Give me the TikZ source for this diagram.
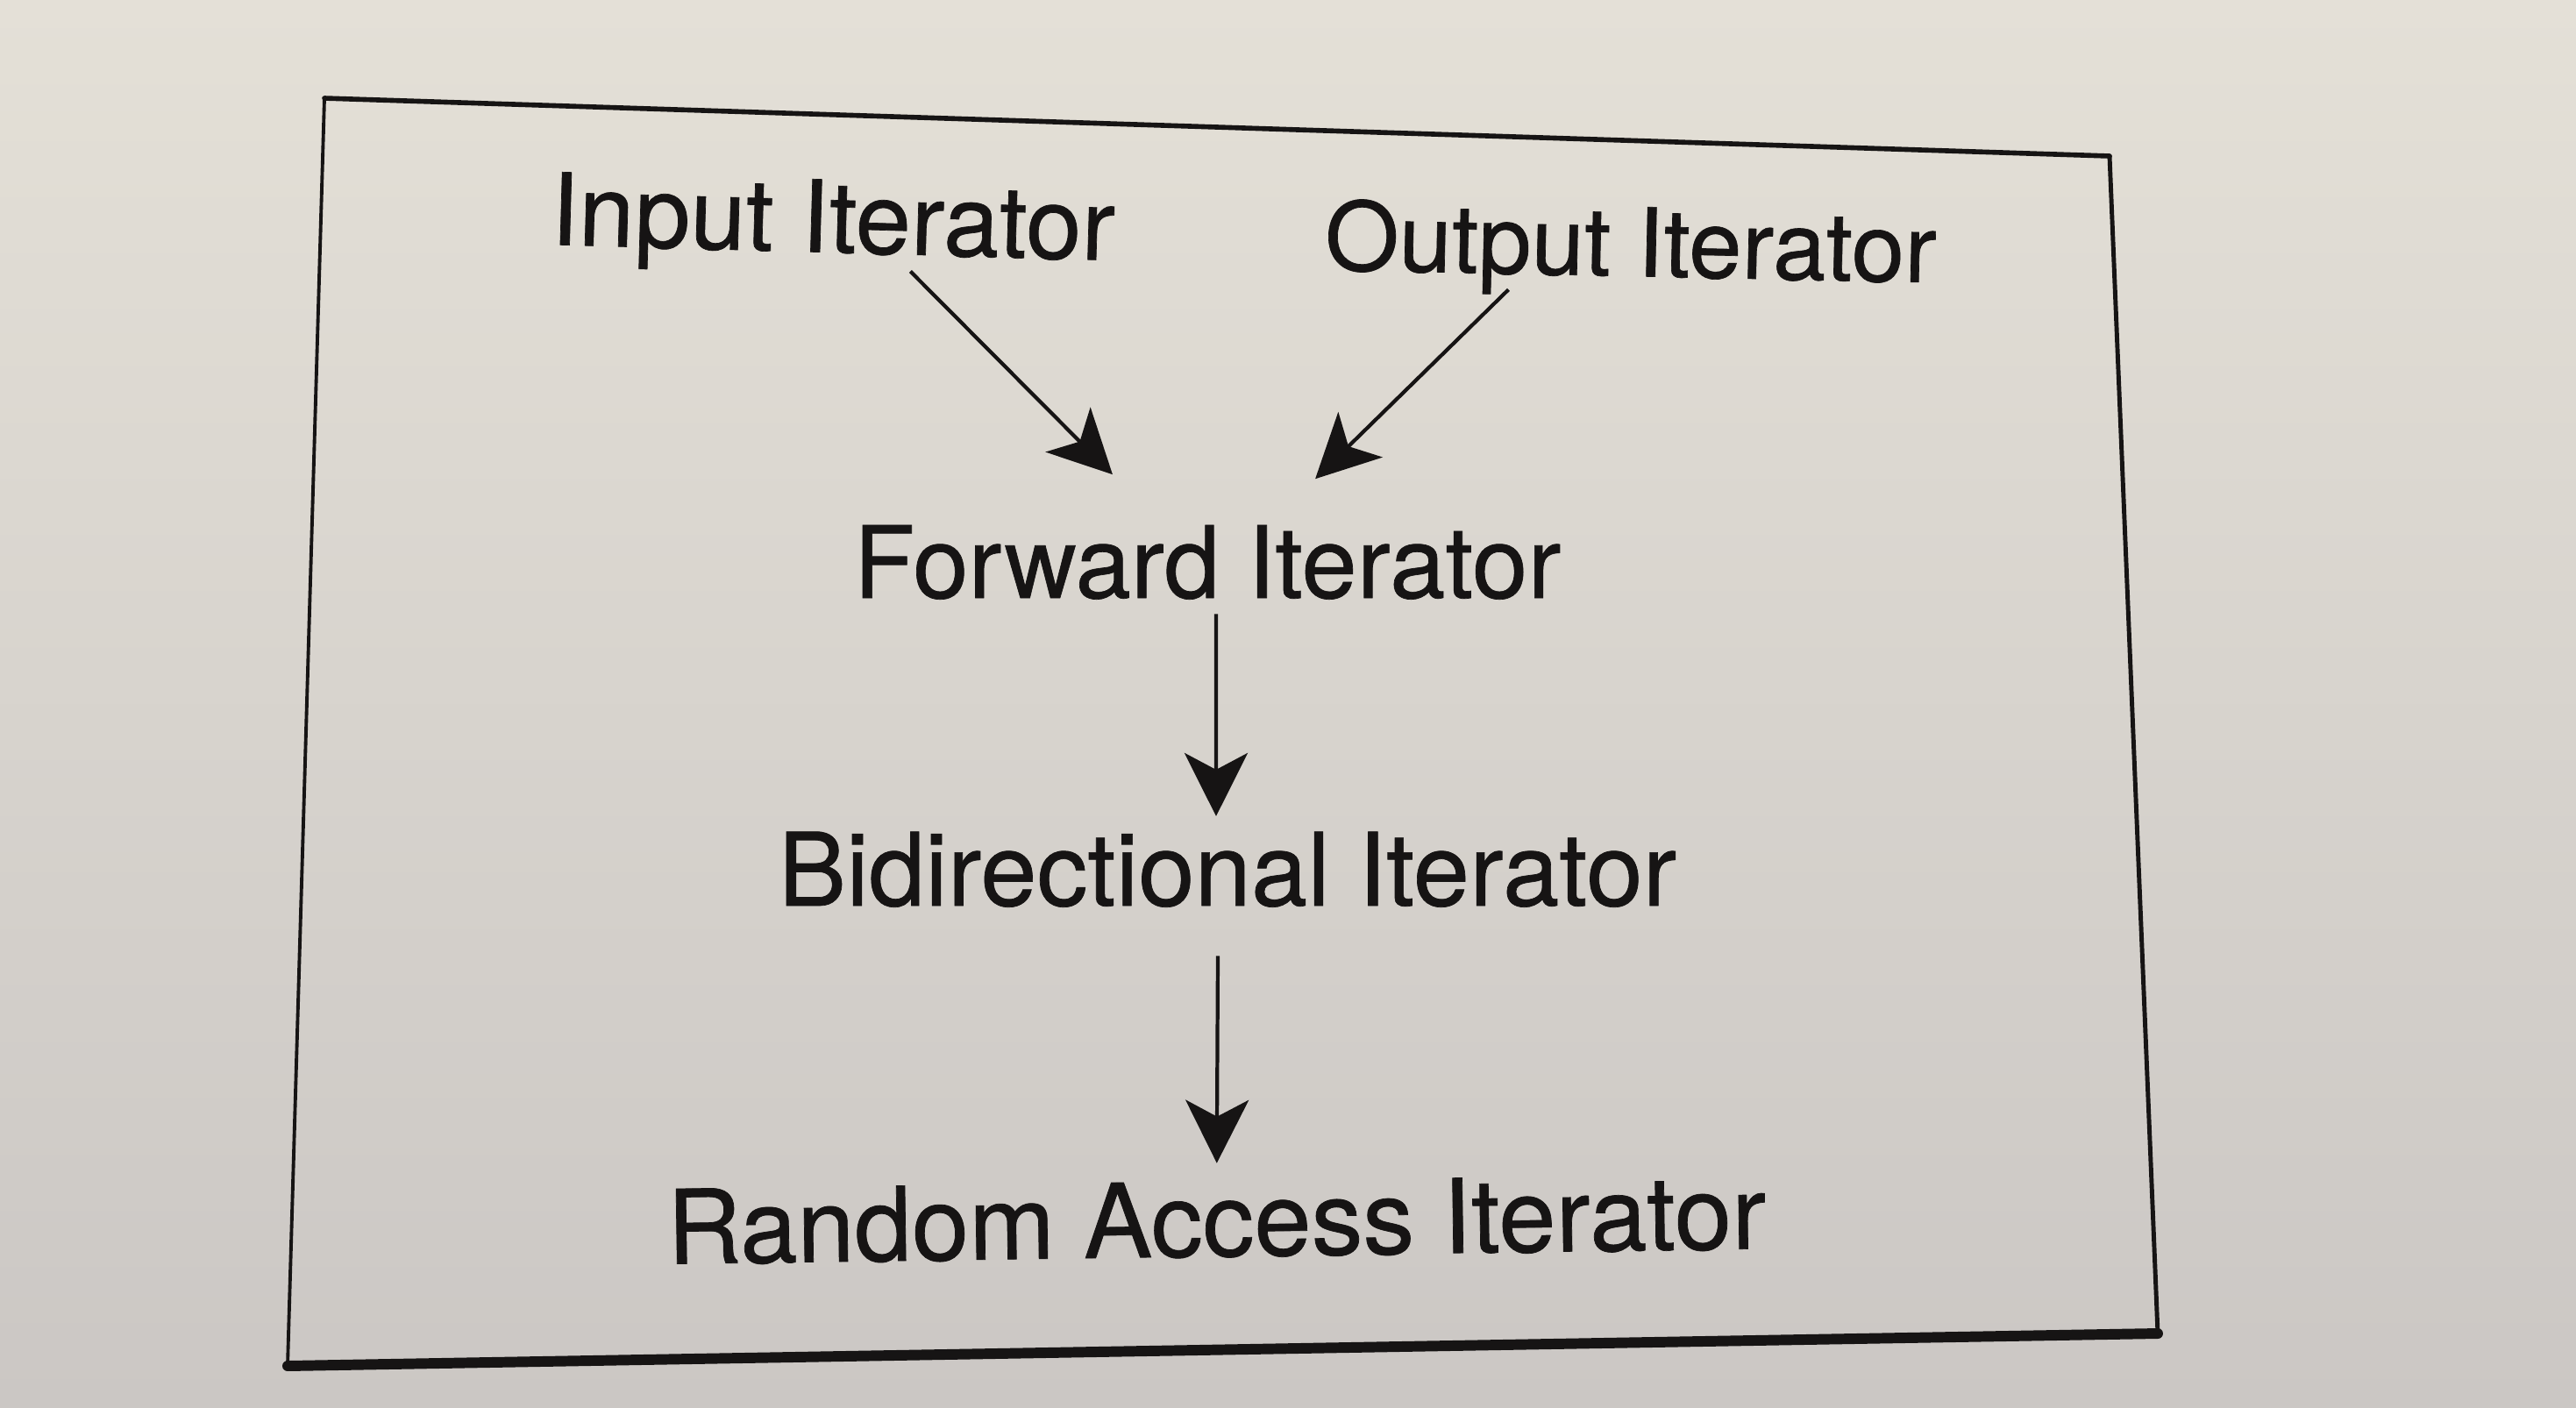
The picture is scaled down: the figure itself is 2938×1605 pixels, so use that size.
\documentclass[tikz,border=0pt]{standalone}
\usepackage{fontspec}
\setmainfont[FakeBold=0.6]{TeX Gyre Heros}
\usetikzlibrary{arrows.meta}
\definecolor{papertop}{RGB}{228,224,215}
\definecolor{paperbot}{RGB}{203,199,196}
\definecolor{ink}{RGB}{22,20,20}
\begin{document}
\begin{tikzpicture}[x=0.01cm,y=-0.01cm,
  lbl/.style={anchor=base, inner sep=0pt, text=ink, font=\fontsize{#1}{#1}\selectfont},
  arr/.style={draw=ink, line width=1.2pt, -{Stealth[length=0.72cm,width=0.72cm,inset=0.19cm]}},
  edge/.style={draw=ink, line width=#1, line cap=round}]
\shade [top color=papertop, bottom color=paperbot] (0,0) rectangle (2938,1605);
\useasboundingbox (0,0) rectangle (2938,1605);
% frame (photographed, so not square)
\coordinate (tl) at (370,112);
\coordinate (tr) at (2406,178);
\coordinate (br) at (2461,1521);
\coordinate (bl) at (328,1558);
\draw [edge=1.6pt] (tl) -- (tr);
\draw [edge=1.4pt] (tr) -- (br);
\draw [edge=3.4pt] (br) -- (bl);
\draw [edge=1.1pt] (bl) -- (tl);
% iterators
\node [lbl=32.4, rotate=-1.6] (inp) at (949,288) {Input Iterator};
\node [lbl=30.9, rotate=-1.2] (outp) at (1859,315) {Output Iterator};
\node [lbl=32.4] (fwd) at (1377,682) {Forward Iterator};
\node [lbl=32.9] (bidi) at (1400,1033) {Bidirectional Iterator};
\node [lbl=33.4, rotate=0.8] (rand) at (1388,1433) {Random Access Iterator};
% refinements
\draw [arr] ([xshift=0.9cm,yshift=0.04cm]inp.south) -- ([xshift=-1.08cm,yshift=0.57cm]fwd.north);
\draw [arr] ([xshift=-1.38cm,yshift=0.09cm]outp.south) -- ([xshift=1.23cm,yshift=0.52cm]fwd.north);
\draw [arr] ([xshift=0.10cm,yshift=-0.16cm]fwd.south) -- ([xshift=-0.13cm,yshift=0.17cm]bidi.north);
\draw [arr] ([xshift=-0.11cm,yshift=-0.55cm]bidi.south) -- ([xshift=0.01cm,yshift=0.20cm]rand.north);
\end{tikzpicture}
\end{document}
